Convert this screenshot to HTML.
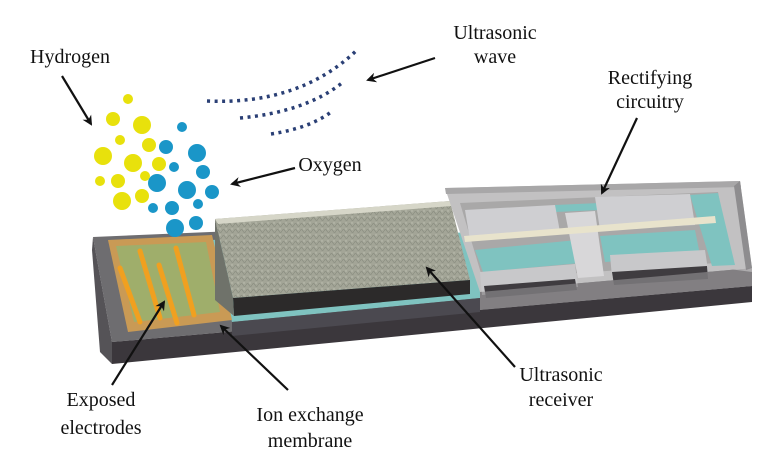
<!DOCTYPE html>
<html><head><meta charset="utf-8"><style>
html,body{margin:0;padding:0;background:#fff;}
svg{display:block;}
text{font-family:"Liberation Serif",serif;font-size:20px;fill:#111;}
</style></head><body>
<svg width="769" height="472" viewBox="0 0 769 472">
<defs>
<marker id="ah" markerWidth="10" markerHeight="10" refX="8" refY="5" orient="auto" markerUnits="userSpaceOnUse">
<path d="M0,0 L10,5 L0,10 L3,5 Z" fill="#111"/>
</marker>
<pattern id="tex" width="6" height="6" patternUnits="userSpaceOnUse">
<rect width="6" height="6" fill="#a3a597"/>
<path d="M0,3 Q1.5,0 3,3 T6,3" stroke="#8a8d80" stroke-width="0.8" fill="none"/>
<circle cx="4" cy="1" r="0.7" fill="#c0c2b4"/>
</pattern>
</defs>

<!-- base slab -->
<polygon points="93,237 445,222 445,232 752,272 752,286 112,342" fill="#6e6d70"/>
<polygon points="112,342 752,286 752,302 112,364" fill="#3b373c"/>
<polygon points="93,237 112,342 112,364 100,352 92,250" fill="#555357"/>
<!-- cyan channel -->
<polygon points="210,240 480,232 480,298 232,322" fill="#7fc3c0"/>
<polygon points="232,322 480,298 480,312 232,336" fill="#4b4950"/>

<!-- electrode area -->
<polygon points="108,240 212,235 232,320 128,332" fill="#c99a55"/>
<polygon points="116,246 206,242 220,312 134,322" fill="#9fae6b"/>
<g stroke="#f0a020" stroke-width="5" stroke-linecap="round">
<line x1="120" y1="268" x2="140" y2="322"/>
<line x1="140" y1="251" x2="160" y2="318"/>
<line x1="159" y1="265" x2="177" y2="323"/>
<line x1="176" y1="248" x2="194" y2="315"/>
</g>

<!-- membrane/receiver block -->
<polygon points="215,219 450,201 470,280 233,298" fill="url(#tex)"/>
<polygon points="215,219 450,201 452,206 218,224" fill="#d6d6c8"/>
<polygon points="233,298 470,280 470,294 234,316" fill="#2c2a2a"/>
<polygon points="215,219 233,298 234,316 215,300" fill="#6f726a"/>

<!-- rectifier box -->
<polygon points="445,188 740,181 752,268 480,292" fill="#c2c1c2"/>
<polygon points="460,203 718,192 730,262 483,280" fill="#a9a8a8"/>
<polygon points="475,250 577,240 580,263 483,272" fill="#7fc3c0"/>
<polygon points="600,236 695,230 700,255 605,262" fill="#7fc3c0"/>
<polygon points="690,195 718,193 735,265 712,266" fill="#7fc3c0"/>
<polygon points="555,205 600,203 600,210 555,212" fill="#7fc3c0"/>
<polygon points="465,210 555,205 560,232 470,240" fill="#cfcfd2"/>
<polygon points="595,197 690,194 695,225 600,230" fill="#cfcfd2"/>
<polygon points="565,213 595,211 604,276 578,278" fill="#d8d7d9"/>
<polygon points="480,272 575,264 578,287 482,295" fill="#c8c8ca"/>
<polygon points="610,255 705,250 708,270 612,277" fill="#c8c8ca"/>
<polygon points="484,286 575,279 577,290 486,298" fill="#3f3c40"/>
<polygon points="612,272 707,266 708,279 614,285" fill="#3f3c40"/>
<polygon points="464,236 715,216 716,223 465,242" fill="#e8e3cc"/>
<polygon points="445,188 740,181 741,187 446,194" fill="#a8a7a8"/>
<polygon points="740,181 752,268 746,270 734,186" fill="#8e8d8f"/>
<polygon points="480,292 752,268 752,286 480,310" fill="#8a878a" opacity="0.7"/>

<!-- bubbles -->
<g fill="#e8e10c">
<circle cx="128" cy="99" r="5"/><circle cx="113" cy="119" r="7"/><circle cx="142" cy="125" r="9"/>
<circle cx="120" cy="140" r="5"/><circle cx="149" cy="145" r="7"/><circle cx="103" cy="156" r="9"/>
<circle cx="133" cy="163" r="9"/><circle cx="159" cy="164" r="7"/><circle cx="100" cy="181" r="5"/>
<circle cx="118" cy="181" r="7"/><circle cx="145" cy="176" r="5"/><circle cx="122" cy="201" r="9"/>
<circle cx="142" cy="196" r="7"/>
</g>
<g fill="#1a96c8">
<circle cx="182" cy="127" r="5"/><circle cx="166" cy="147" r="7"/><circle cx="197" cy="153" r="9"/>
<circle cx="174" cy="167" r="5"/><circle cx="203" cy="172" r="7"/><circle cx="157" cy="183" r="9"/>
<circle cx="187" cy="190" r="9"/><circle cx="212" cy="192" r="7"/><circle cx="153" cy="208" r="5"/>
<circle cx="172" cy="208" r="7"/><circle cx="198" cy="204" r="5"/><circle cx="175" cy="228" r="9"/>
<circle cx="196" cy="223" r="7"/>
</g>

<!-- waves -->
<g stroke="#2a3f75" stroke-width="3.5" fill="none" stroke-dasharray="3,4.5">
<path d="M207,101 Q300,105 357,50"/>
<path d="M240,118 Q305,112 342,83"/>
<path d="M271,134 Q310,128 331,112"/>
</g>

<!-- arrows -->
<g stroke="#111" stroke-width="2.2" fill="none" marker-end="url(#ah)">
<line x1="62" y1="76" x2="91" y2="124"/>
<line x1="435" y1="58" x2="368" y2="80"/>
<line x1="295" y1="168" x2="232" y2="184"/>
<line x1="637" y1="118" x2="602" y2="193"/>
<line x1="515" y1="367" x2="427" y2="268"/>
<line x1="112" y1="385" x2="164" y2="302"/>
<line x1="288" y1="390" x2="221" y2="326"/>
</g>

<!-- labels -->
<text x="70" y="63" text-anchor="middle">Hydrogen</text>
<text x="495" y="39" text-anchor="middle">Ultrasonic</text>
<text x="495" y="63" text-anchor="middle">wave</text>
<text x="650" y="84" text-anchor="middle">Rectifying</text>
<text x="650" y="108" text-anchor="middle">circuitry</text>
<text x="330" y="171" text-anchor="middle">Oxygen</text>
<text x="101" y="406" text-anchor="middle">Exposed</text>
<text x="101" y="434" text-anchor="middle">electrodes</text>
<text x="310" y="421" text-anchor="middle">Ion exchange</text>
<text x="310" y="447" text-anchor="middle">membrane</text>
<text x="561" y="381" text-anchor="middle">Ultrasonic</text>
<text x="561" y="406" text-anchor="middle">receiver</text>
</svg>
</body></html>
